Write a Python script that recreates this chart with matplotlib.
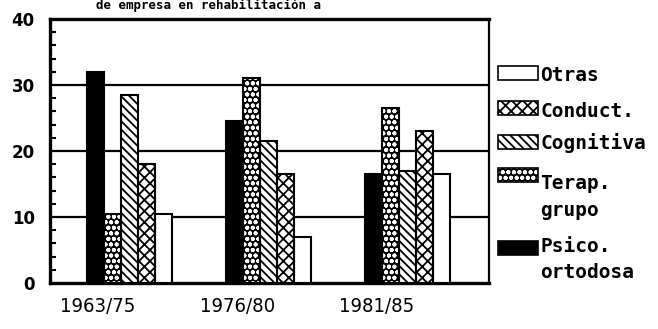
import matplotlib
matplotlib.use("Agg")
import matplotlib.pyplot as plt
from matplotlib.patches import Rectangle
from matplotlib.ticker import MultipleLocator
import numpy as np

# datos por periodo (% de trabajos)
periodos = ["1963/75", "1976/80", "1981/85"]
psico_ortodosa = [32, 24.5, 16.5]
terap_grupo = [10.5, 31, 26.5]
cognitiva = [28.5, 21.5, 17]
conduct = [18, 16.5, 23]
otras = [10.5, 7, 16.5]

series = [psico_ortodosa, terap_grupo, cognitiva, conduct, otras]

# estilo de relleno de cada serie
estilos = [
    dict(fc="black", hatch="", hc="black"),
    dict(fc="black", hatch="ooo", hc="white"),
    dict(fc="white", hatch="\\\\\\\\", hc="black"),
    dict(fc="white", hatch="xxx", hc="black"),
    dict(fc="white", hatch="", hc="black"),
]

W, H = 658, 329
fig = plt.figure(figsize=(W / 100, H / 100), dpi=100)
ax = fig.add_axes([50 / W, 1 - 283 / H, (489 - 50) / W, (283 - 19) / H])

plt.rcParams["hatch.linewidth"] = 1.3

x = np.arange(len(periodos))
ancho = 0.123

for k, valores in enumerate(series):
    st = estilos[k]
    pos = x + k * ancho
    ax.bar(pos, valores, ancho, align="edge", color=st["fc"], edgecolor=st["hc"],
           hatch=st["hatch"], linewidth=0, zorder=3)
    ax.bar(pos, valores, ancho, align="edge", fill=False, edgecolor="black",
           linewidth=1.5, zorder=4)

ax.set_xlim(-0.266, 2.892)
ax.set_ylim(0, 40)
ax.set_yticks([0, 10, 20, 30, 40])
ax.yaxis.set_minor_locator(MultipleLocator(2))
ax.tick_params(axis="y", which="major", length=0, pad=11)
ax.tick_params(axis="y", which="minor", direction="in", length=4, width=1.5)
for lab in ax.get_yticklabels():
    lab.set_fontweight("bold")
    lab.set_fontsize(12)

ax.set_xticks(x + 0.08)
ax.set_xticklabels(periodos, fontsize=14.5, fontstretch="condensed",
                   family=["DejaVu Sans"])
ax.tick_params(axis="x", length=0, pad=10)

for v in [10, 20, 30]:
    ax.axhline(v, color="black", linewidth=1.6, zorder=1)

for lado, lw in [("left", 2.4), ("bottom", 2.4), ("top", 2.4), ("right", 1.6)]:
    ax.spines[lado].set_linewidth(lw)

# leyenda a la derecha, en orden inverso
def fx(px):
    return px / W

def fy(py):
    return 1 - py / H

filas = [
    (4, 73, [("Otras", 81)]),
    (3, 108, [("Conduct.", 117)]),
    (2, 142, [("Cognitiva", 149)]),
    (1, 175, [("Terap.", 189), ("grupo", 216)]),
    (0, 248, [("Psico.", 252), ("ortodosa", 278)]),
]
for k, yc, lineas in filas:
    st = estilos[k]
    r = Rectangle((fx(498), fy(yc + 7)), fx(40), 14 / H, transform=fig.transFigure,
                  facecolor=st["fc"], edgecolor=st["hc"], hatch=st["hatch"],
                  linewidth=0)
    fig.add_artist(r)
    fig.add_artist(Rectangle((fx(498), fy(yc + 7)), fx(40), 14 / H,
                             transform=fig.transFigure, fill=False,
                             edgecolor="black", linewidth=1.2))
    for texto, base in lineas:
        fig.text(fx(540), fy(base), texto, family="DejaVu Sans Mono",
                 fontweight="bold", fontsize=14, va="baseline", ha="left")

fig.text(fx(208), fy(9), "de empresa en rehabilitación a", family="DejaVu Sans Mono",
         fontweight="bold", fontsize=9, va="baseline", ha="center")

fig.savefig("out.png", dpi=100)
